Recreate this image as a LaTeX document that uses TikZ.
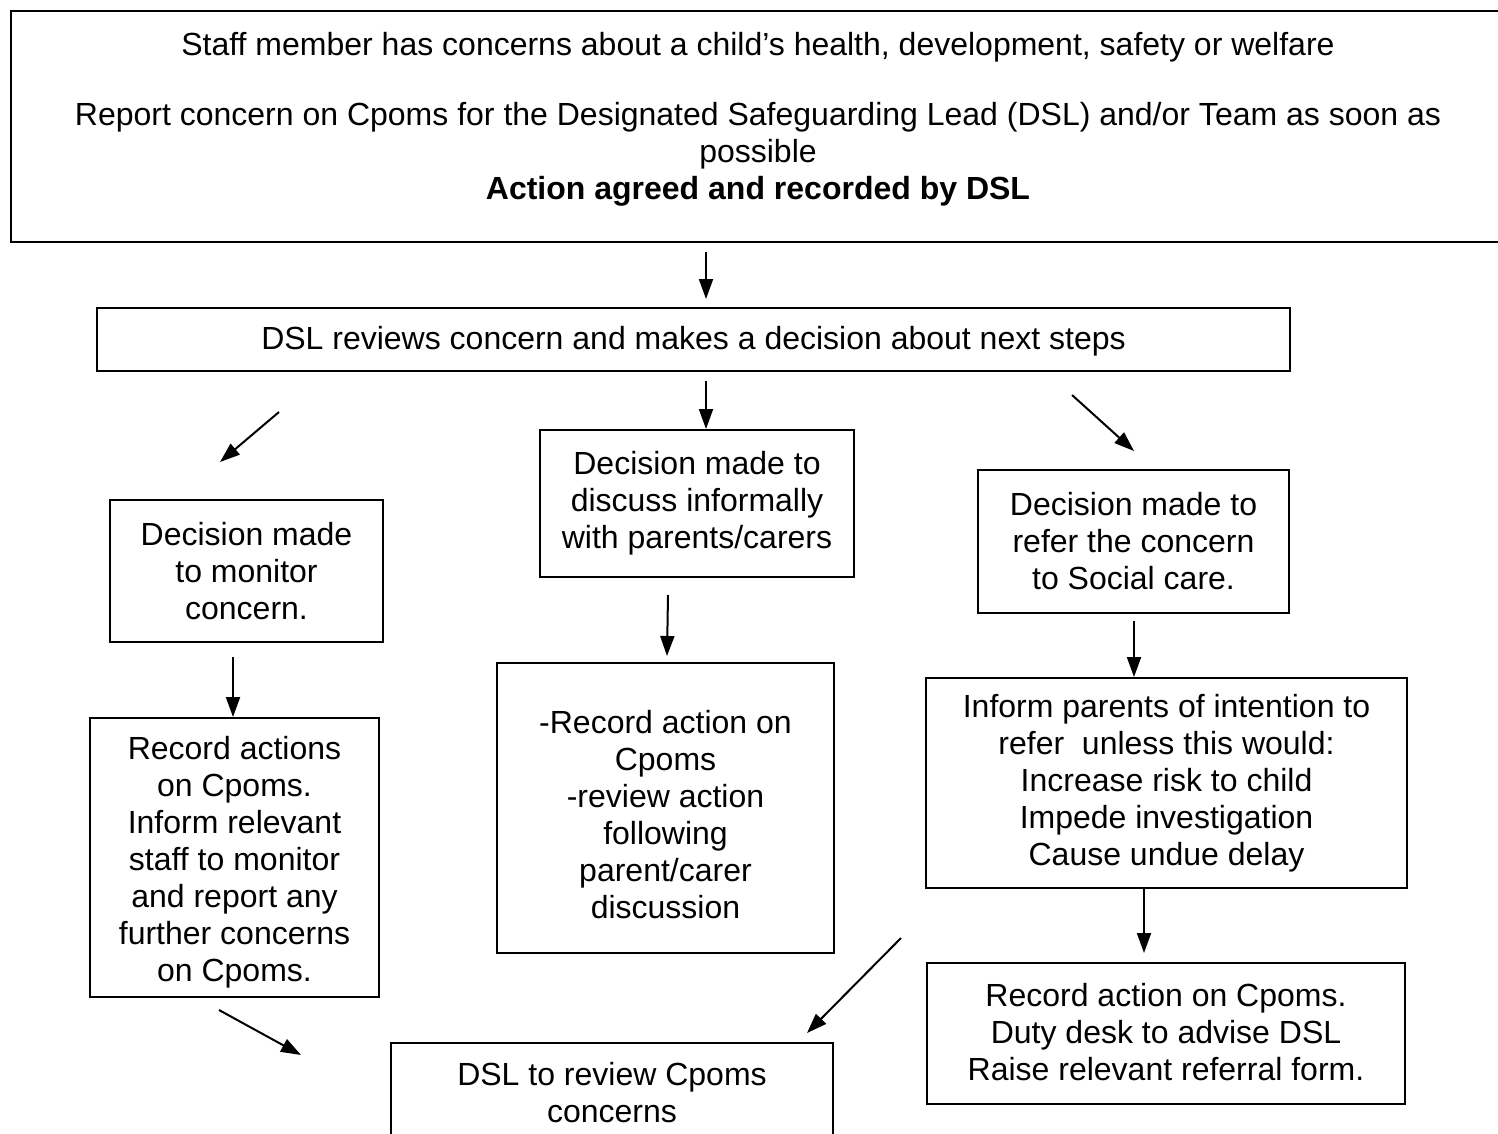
\documentclass[tikz,border=0pt]{standalone}
\usepackage{fontspec}
\setmainfont{Liberation Sans}
\usetikzlibrary{arrows.meta}
\tikzset{
  box/.style={draw, line width=2pt, rectangle, align=center, inner sep=0pt,
    font=\fontsize{32}{37}\selectfont},
  txt/.style={align=center, inner sep=0pt, font=\fontsize{32}{37}\selectfont},
  arr/.style={line width=2pt, -{Triangle[length=20pt,width=14pt]}}
}
\begin{document}
\begin{tikzpicture}[x=1pt,y=-1pt]
\useasboundingbox (0,0) rectangle (1498,1133);
\clip (0,0) rectangle (1498,1133);
% top box
\node[box, minimum width=1510pt, minimum height=231pt, anchor=north west] (top) at (10,10) {};
\node[txt] (toptext) at (758,119) {Staff member has concerns about a child’s health, development, safety or welfare\\[33pt]
Report concern on Cpoms for the Designated Safeguarding Lead (DSL) and/or Team as soon as\\
possible\\
\textbf{Action agreed and recorded by DSL}};
% review box
\node[box, minimum width=1193pt, minimum height=63pt] (review) at (693.5,339.5) {};
\node[txt] at (693.5,341) {DSL reviews concern and makes a decision about next steps};
% decision boxes
\node[box, minimum width=273pt, minimum height=142pt] (monitor) at (246.5,571) {Decision made\\to monitor\\concern.};
\node[box, minimum width=314pt, minimum height=147pt] (discuss) at (697,503.5) {Decision made to\\discuss informally\\with parents/carers};
\node[box, minimum width=311pt, minimum height=143pt] (refer) at (1133.5,541.5) {Decision made to\\refer the concern\\to Social care.};
% second level
\node[box, minimum width=289pt, minimum height=279pt] (recmon) at (234.5,857.5) {};
\node[txt] at (234.5,862) {Record actions\\on Cpoms.\\Inform relevant\\staff to monitor\\and report any\\further concerns\\on Cpoms.};
\node[box, minimum width=337pt, minimum height=290pt] (recdis) at (665.5,808) {};
\node[txt] at (665.5,815) {-Record action on\\Cpoms\\-review action\\following\\parent/carer\\discussion};
\node[box, minimum width=481pt, minimum height=210pt] (inform) at (1166.5,783) {Inform parents of intention to\\refer\ \ unless this would:\\Increase risk to child\\Impede investigation\\Cause undue delay};
\node[box, minimum width=478pt, minimum height=141pt] (recref) at (1166,1033.5) {};
\node[txt] at (1166,1032) {Record action on Cpoms.\\Duty desk to advise DSL\\Raise relevant referral form.};
\node[box, minimum width=442pt, minimum height=97pt] (final) at (612,1091.5) {};
\node[txt] at (612,1093) {DSL to review Cpoms\\concerns};
% free arrow ends
\coordinate (a1s) at (706,252); \coordinate (a1e) at (706,299);
\coordinate (a2s) at (279,412); \coordinate (a2e) at (220,462);
\coordinate (a3s) at (706,381);
\coordinate (a4s) at (1072,395); \coordinate (a4e) at (1134,451);
\coordinate (a5s) at (233,657);
\coordinate (a6s) at (668,595); \coordinate (a6e) at (667,656);
\coordinate (a7s) at (1134,621);
\coordinate (a8s) at (1144,889); \coordinate (a8e) at (1144,953);
\coordinate (a9s) at (901,938); \coordinate (a9e) at (807,1033);
\coordinate (a10s) at (219,1010); \coordinate (a10e) at (301,1055);
% arrows
\draw[arr] (a1s) -- (a1e);
\draw[arr] (a2s) -- (a2e);
\draw[arr] (a3s) -- (discuss.north -| a3s);
\draw[arr] (a4s) -- (a4e);
\draw[arr] (a5s) -- (recmon.north -| a5s);
\draw[arr] (a6s) -- (a6e);
\draw[arr] (a7s) -- (inform.north -| a7s);
\draw[arr] (a8s) -- (a8e);
\draw[arr] (a9s) -- (a9e);
\draw[arr] (a10s) -- (a10e);
\end{tikzpicture}
\end{document}
